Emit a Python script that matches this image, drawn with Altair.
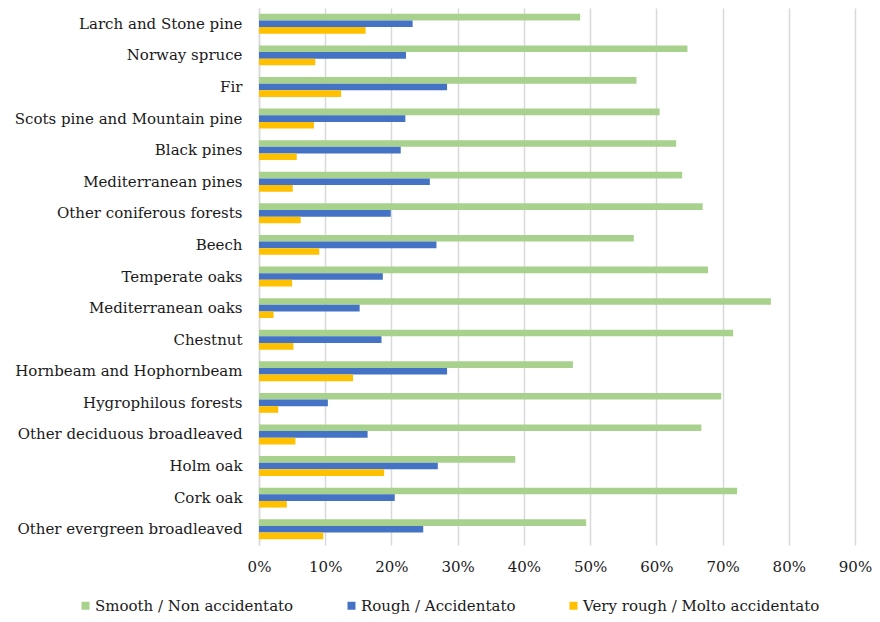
import altair as alt
import pandas as pd

categories = [
    "Larch and Stone pine", "Norway spruce", "Fir", "Scots pine and Mountain pine",
    "Black pines", "Mediterranean pines", "Other coniferous forests", "Beech",
    "Temperate oaks", "Mediterranean oaks", "Chestnut", "Hornbeam and Hophornbeam",
    "Hygrophilous forests", "Other deciduous broadleaved ", "Holm oak", "Cork oak",
    "Other evergreen broadleaved",
]
series = ["Smooth / Non accidentato", "Rough / Accidentato", "Very rough / Molto accidentato"]
smooth = [48.5, 64.7, 57.0, 60.5, 63.0, 63.9, 67.0, 56.6, 67.8, 77.3, 71.6, 47.4, 69.8, 66.8, 38.7, 72.2, 49.4]
rough = [23.2, 22.2, 28.4, 22.1, 21.4, 25.8, 19.9, 26.8, 18.7, 15.2, 18.5, 28.4, 10.4, 16.4, 27.0, 20.5, 24.8]
very_rough = [16.1, 8.5, 12.4, 8.3, 5.7, 5.1, 6.3, 9.1, 5.0, 2.2, 5.2, 14.2, 2.9, 5.5, 18.9, 4.2, 9.7]
colors = ["#A9D18E", "#4472C4", "#FFC000"]
ticks = [0, 0.1, 0.2, 0.3, 0.4, 0.5, 0.6, 0.7, 0.8, 0.9]

rows = []
for vals, s in zip([smooth, rough, very_rough], series):
    for c, v in zip(categories, vals):
        rows.append({"category": c, "series": s, "value": v / 100})
df = pd.DataFrame(rows)

font = "DejaVu Serif"
fs = 15

chart = alt.Chart(df).mark_bar().encode(
    y=alt.Y("category:N", sort=categories, title=None,
            scale=alt.Scale(paddingInner=0.37, paddingOuter=0.185),
            axis=alt.Axis(ticks=False, domain=True, domainColor="#D9D9D9", domainWidth=1.5,
                          labelFont=font, labelFontSize=fs, labelColor="#1a1a1a",
                          labelPadding=17, labelLimit=300)),
    yOffset=alt.YOffset("series:N", sort=series, scale=alt.Scale(paddingInner=0, paddingOuter=0)),
    x=alt.X("value:Q", title=None,
            scale=alt.Scale(domain=[0, 0.9], nice=False),
            axis=alt.Axis(values=ticks, format=".0%", ticks=False, domain=False,
                          grid=True, gridColor="#D9D9D9", gridWidth=1.5, labelFlush=False,
                          labelFont=font, labelFontSize=fs, labelColor="#1a1a1a",
                          labelPadding=14)),
    color=alt.Color("series:N", sort=series,
                    scale=alt.Scale(domain=series, range=colors),
                    legend=alt.Legend(title=None, orient="none", direction="horizontal",
                                      legendX=-181, legendY=590,
                                      symbolType="square", symbolSize=64, symbolStrokeWidth=0,
                                      labelFont=font, labelFontSize=fs, labelColor="#1a1a1a",
                                      labelOffset=2, columnPadding=50, labelLimit=400)),
).properties(
    width=596, height=537,
    autosize=alt.AutoSizeParams(type="none"),
    padding={"left": 251, "top": 0, "right": 17, "bottom": 70},
).configure_view(stroke=None)

chart.save("out.html", embed_options={"renderer": "svg", "actions": False})
